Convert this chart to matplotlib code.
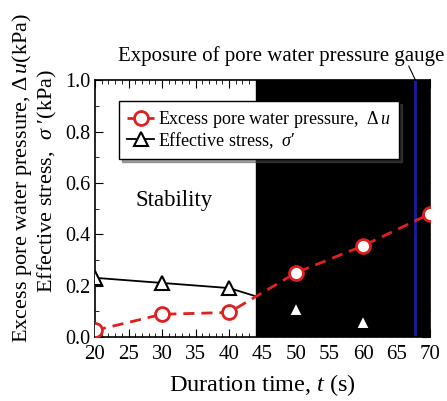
import numpy as np
import matplotlib.pyplot as plt
from matplotlib.ticker import MultipleLocator

plt.rcParams['font.family'] = ['Liberation Serif', 'DejaVu Serif']
plt.rcParams['mathtext.fontset'] = 'custom'
plt.rcParams['mathtext.rm'] = 'Liberation Serif'
plt.rcParams['mathtext.it'] = 'Liberation Serif:italic'

# duration time (s)
t = [20, 30, 40, 50, 60, 70]
excess_pwp = [0.025, 0.088, 0.095, 0.25, 0.355, 0.48]   # Δu (kPa)
t_eff = [20, 30, 40, 50, 60]
eff_stress = [0.23, 0.21, 0.19, 0.11, 0.058]           # σ' (kPa)

unstable_start = 44.0
gauge_exposed = 67.8

fig = plt.figure(figsize=(4.47, 4.01), dpi=100)
ax = fig.add_axes([0.2125, 0.16, 0.75, 0.64])

ax.axvspan(unstable_start, 70, color='black', zorder=0)
ax.axvline(gauge_exposed, color='#1a1aa0', lw=2, zorder=1)

ax.plot(t_eff, eff_stress, '-', color='black', lw=1.3, marker='^', ms=10,
        mfc='white', mec='black', mew=1.5, zorder=3,
        label='Effective stress,  $\\mathit{σ}$′')
ax.plot(t, excess_pwp, '--', color='#e02020', lw=2, dashes=(4, 2.5), marker='o',
        ms=10, mfc='white', mec='#e02020', mew=2, zorder=4,
        label='Excess pore water pressure,  $\\mathit{Δ\\,u}$')

ax.set_xlim(20, 70)
ax.set_ylim(0, 1.0)
ax.xaxis.set_major_locator(MultipleLocator(5))
ax.xaxis.set_minor_locator(MultipleLocator(1))
ax.yaxis.set_major_locator(MultipleLocator(0.2))
ax.yaxis.set_minor_locator(MultipleLocator(0.1))
ax.yaxis.set_major_formatter(plt.FormatStrFormatter('%.1f'))
ax.tick_params(which='both', direction='in', top=True, right=True)
ax.tick_params(axis='x', labelsize=15, pad=6)
ax.tick_params(axis='y', labelsize=14.5)
ax.tick_params(which='major', length=6)
ax.tick_params(which='minor', length=3)
for s in ax.spines.values():
    s.set_linewidth(1.2)

# top ticks over the dark region in white
for tk in ax.xaxis.get_major_ticks() + ax.xaxis.get_minor_ticks():
    if tk.get_loc() >= unstable_start:
        tk.tick2line.set_color('white')

ax.set_xlabel('Duration time, $\\mathit{t}$ (s)', fontsize=17.5, labelpad=6)
fig.text(0.050, 0.556, 'Excess pore water pressure, $\\mathit{Δ\\,u}$(kPa)',
         rotation=90, fontsize=16, ha='center', va='center')
fig.text(0.106, 0.549, 'Effective stress,  $\\mathit{σ}$ ′(kPa)',
         rotation=90, fontsize=16, ha='center', va='center')

h, l = ax.get_legend_handles_labels()
leg = ax.legend(h[::-1], l[::-1], loc='upper left', bbox_to_anchor=(0.045, 0.955),
                fontsize=13, handlelength=1.5, handletextpad=0.2,
                labelspacing=0.0, borderpad=0.45, fancybox=False, shadow=True,
                framealpha=1, edgecolor='black')
leg.get_frame().set_linewidth(1.0)

ax.text(31.8, 0.53, 'Stability', fontsize=16.5, ha='center', va='center')
ax.text(47.8, 1.075, 'Exposure of pore water pressure gauge', fontsize=15,
        ha='center', va='baseline')
ax.plot([66.8, gauge_exposed], [1.055, 1.0], color='black', lw=0.8,
        clip_on=False)

fig.savefig('out.png', dpi=100)
